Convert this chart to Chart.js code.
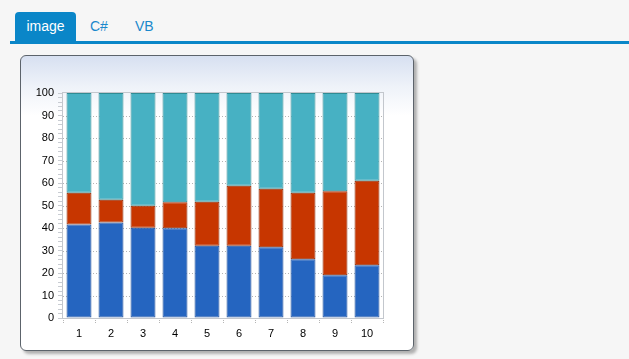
<!DOCTYPE html>
<html>
<head>
<meta charset="utf-8">
<script src="https://cdn.jsdelivr.net/npm/chart.js@4"></script>
<style>
  html, body { margin: 0; padding: 0; }
  body { width: 629px; height: 359px; background: #f6f6f6; position: relative; overflow: hidden;
         font-family: "Liberation Sans", Arial, sans-serif; }
  .tabs { position: absolute; left: 10px; top: 12px; right: 0; height: 29px; }
  .tab { position: absolute; top: 0; height: 29px; line-height: 29px; font-size: 14px; color: #1a88cc; }
  .tab.active { left: 5px; width: 61px; background: #0a86c8; color: #fff; text-align: center; border-radius: 4px 4px 0 0; }
  .tabline { position: absolute; left: 10px; right: 0; top: 41px; height: 3px; background: #0a86c8; }
  .panel { position: absolute; left: 20px; top: 55px; width: 392px; height: 294px;
           border: 1px solid #5c636b; border-radius: 6px;
           background: linear-gradient(#d7e0f1 0px, #eef2f9 30px, #ffffff 60px);
           box-shadow: 3px 3px 3px #b0b0b0; }
  .panel canvas { position: absolute; left: 0; top: 0; }
</style>
</head>
<body>
<div class="tabs">
  <div class="tab active">image</div>
  <div class="tab" style="left:80px">C#</div>
  <div class="tab" style="left:125px">VB</div>
</div>
<div class="tabline"></div>
<div class="panel"><canvas id="chart" width="392" height="294"></canvas></div>
<script>
// ── Data ──────────────────────────────────────────────────────
const categories = ['1', '2', '3', '4', '5', '6', '7', '8', '9', '10'];
const blueValues = [41.6, 42.5, 40.1, 39.9, 32.1, 32.1, 31.4, 26.1, 19.0, 23.4];
const redValues  = [14.1, 10.1,  9.8, 11.5, 19.6, 26.7, 26.1, 29.6, 37.3, 37.6];
const tealValues = [44.3, 47.4, 50.1, 48.6, 48.3, 41.2, 42.5, 44.3, 43.7, 39.0];

// ── Plot frame + dotted grid ──────────────────────────────────
const frameBox = {
  id: 'frameBox',
  beforeDatasetsDraw(chart) {
    const { ctx, chartArea: a, scales } = chart;
    ctx.save();
    ctx.strokeStyle = '#b4b4b4';
    ctx.lineWidth = 1;
    ctx.setLineDash([1, 2]);
    for (let v = 10; v < 100; v += 10) {
      const y = Math.round(scales.y.getPixelForValue(v)) + 0.5;
      ctx.beginPath();
      ctx.moveTo(a.left, y);
      ctx.lineTo(a.right, y);
      ctx.stroke();
    }
    ctx.setLineDash([]);
    ctx.strokeStyle = '#c3c7cd';
    ctx.strokeRect(a.left - 0.5, a.top - 0.5, a.right - a.left + 1, a.bottom - a.top + 1);
    ctx.restore();
  },
};

const tickFont = { family: '"Liberation Sans", Arial, sans-serif', size: 11 };

new Chart(document.getElementById('chart'), {
  type: 'bar',
  plugins: [frameBox],
  data: {
    labels: categories,
    datasets: [
      { data: blueValues, backgroundColor: '#2565c0', borderColor: '#1c4d98' },
      { data: redValues,  backgroundColor: '#c73600', borderColor: '#8f2800' },
      { data: tealValues, backgroundColor: '#47b1c3', borderColor: '#2f8c94' },
    ],
  },
  options: {
    responsive: false,
    animation: false,
    layout: { padding: { left: 0, top: 37, right: 30, bottom: 0 } },
    datasets: { bar: { categoryPercentage: 1, barPercentage: 0.78, borderWidth: 1, borderSkipped: false } },
    plugins: { legend: { display: false }, tooltip: { enabled: false } },
    scales: {
      x: {
        stacked: true,
        border: { display: false },
        grid: { drawOnChartArea: false, tickLength: 6, tickColor: '#b5b5b5', tickBorderDash: [1, 1] },
        ticks: { color: '#000', font: tickFont, padding: 3 },
        afterFit(s) { s.height = 32; },
      },
      y: {
        stacked: true,
        min: 0, max: 100,
        border: { display: false },
        ticks: {
          stepSize: 2, autoSkip: false, color: '#000', font: tickFont, padding: 4,
          callback: (v) => (v % 10 === 0 ? v : ''),
        },
        grid: {
          drawOnChartArea: false,
          tickLength: 5,
          tickColor: '#c8ccd2',
        },
        afterFit(s) { s.width = 42; },
      },
    },
  },
});
</script>
</body>
</html>
